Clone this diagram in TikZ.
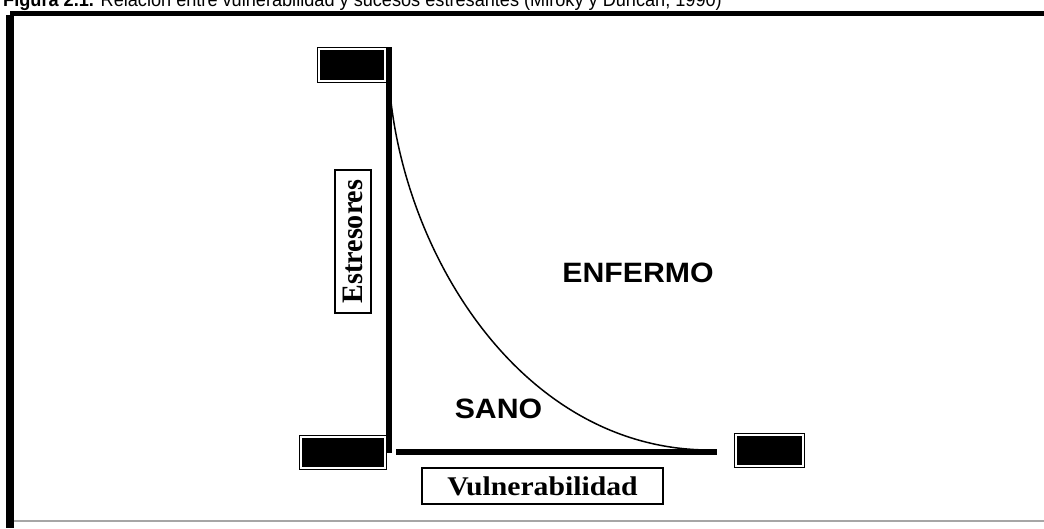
\documentclass[tikz,border=0pt]{standalone}
\usepackage{fontspec}
\usepackage{graphicx}
\setmainfont{Liberation Serif}
\newfontfamily\arialf{Liberation Sans}
\tikzset{
  blackbox/.style={draw=black, line width=1.3pt, double=white, double distance=1.5pt,
    fill=black, inner sep=0pt, outer sep=0pt},
  axisline/.style={line width=6pt, black},
  labelbox/.style={draw=black, line width=1.3pt, inner sep=0pt, outer sep=0pt,
    font=\fontsize{27}{27}\selectfont\bfseries},
  region/.style={inner sep=0pt, font=\arialf\fontsize{28}{28}\selectfont\bfseries},
  framebar/.style={black}
}
\begin{document}
\begin{tikzpicture}[x=1pt,y=-1pt]
\useasboundingbox (0,0) rectangle (1044,528);
\clip (0,0) rectangle (1044,528);
% title (cut off at top)
\node[anchor=base west, inner sep=0pt] (title) at (3,6)
  {\arialf\fontsize{16.8}{17}\selectfont\scalebox{1.08}[1.15]{\textbf{Figura 2.1.} Relación entre vulnerabilidad y sucesos estresantes (Miroky y Duncan, 1990)}};
% frame
\coordinate (fTL) at (10,13);
\coordinate (fTR) at (1044,13);
\coordinate (fBL) at (10,528);
\draw[framebar, line width=5pt] (fTL) -- (fTR);
\draw[framebar, line width=8pt] ([yshift=-2pt]fTL) -- (fBL);
\coordinate (bL) at (14,521);
\coordinate (bR) at (1044,521);
\draw[gray!70, line width=2pt] (bL) -- (bR);
% black boxes
\node[blackbox, minimum width=66pt, minimum height=32pt] (tl) at (352,65) {};
\node[blackbox, minimum width=84pt, minimum height=31pt] (bl) at (343,452.5) {};
\node[blackbox, minimum width=67pt, minimum height=31pt] (br) at (769.5,450.5) {};
% axes
\coordinate (vtop) at (388.5,47);
\coordinate (vbot) at (388.5,453);
\coordinate (hl) at (396,451.5);
\coordinate (hr) at (717,451.5);
\draw[axisline] (vtop) -- (vbot);
\draw[axisline] (hl) -- (hr);
% curve
\coordinate (c0) at (389,80);
\coordinate (c1) at (710,450);
\draw[line width=1.5pt] (c0) .. controls (400,250) and (520,450) .. (c1);
% axis labels
\node[labelbox, rotate=90, minimum width=143pt, minimum height=36pt] (estr) at (353,241.5) {\scalebox{1.04}[1.1]{Estresores}};
\node[labelbox, minimum width=241pt, minimum height=36pt] (vuln) at (542.5,486) {\scalebox{1.1}[1]{Vulnerabilidad}};
% regions
\node[region] (enf) at (638,272.5) {\scalebox{1.08}[1]{ENFERMO}};
\node[region] (sano) at (498.5,409) {\scalebox{1.08}[1]{SANO}};
\end{tikzpicture}
\end{document}
